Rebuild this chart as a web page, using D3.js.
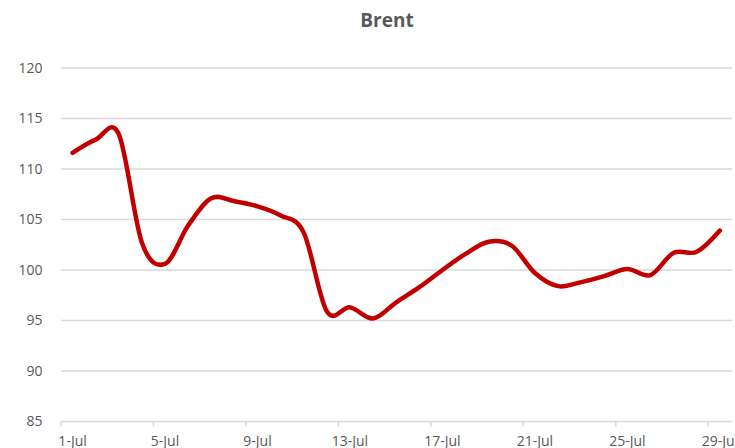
<!DOCTYPE html>
<html>
<head>
<meta charset="utf-8">
<script src="https://cdn.jsdelivr.net/npm/d3@7"></script>
<style>
  html, body { margin: 0; padding: 0; background: #fff; }
  svg { display: block; }
  text { font-family: "Open Sans", "Liberation Sans", sans-serif; }
</style>
</head>
<body>
<svg id="chart" width="735" height="448"></svg>
<script>
const title = "Brent";
const categories = ["1-Jul","2-Jul","3-Jul","4-Jul","5-Jul","6-Jul","7-Jul","8-Jul","9-Jul","10-Jul",
  "11-Jul","12-Jul","13-Jul","14-Jul","15-Jul","16-Jul","17-Jul","18-Jul","19-Jul","20-Jul",
  "21-Jul","22-Jul","23-Jul","24-Jul","25-Jul","26-Jul","27-Jul","28-Jul","29-Jul"];
const values = [111.6, 112.9, 113.45, 102.7, 100.6, 104.4, 107.1, 106.8, 106.3, 105.4,
  103.7, 95.9, 96.3, 95.2, 96.8, 98.3, 100.0, 101.6, 102.8, 102.4,
  99.7, 98.4, 98.8, 99.4, 100.1, 99.5, 101.7, 101.8, 103.9];
const yTicks = [85, 90, 95, 100, 105, 110, 115, 120];
const labelEvery = 4;

const svg = d3.select("#chart");
const plotLeft = 61, plotRight = 731.4, plotTop = 68, plotBottom = 421.5;

const x = d3.scaleBand().domain(categories).range([plotLeft, plotRight]).padding(0);
const y = d3.scaleLinear().domain([85, 120]).range([plotBottom, plotTop]);

const grey = "#595959";

// gridlines
svg.append("g")
  .selectAll("line")
  .data(yTicks)
  .join("line")
  .attr("x1", plotLeft).attr("x2", plotRight + 1)
  .attr("y1", d => y(d)).attr("y2", d => y(d))
  .attr("stroke", "#d9d9d9")
  .attr("stroke-width", 1.5);

// y axis labels
const yAxis = d3.axisLeft(y).tickValues(yTicks).tickSize(0).tickPadding(0);
const gy = svg.append("g").attr("transform", `translate(42.5,0)`).call(yAxis);
gy.select(".domain").remove();
gy.selectAll("text")
  .attr("fill", grey)
  .style("font-size", "14px")
  .style("font-family", "'Open Sans', sans-serif");

// x axis tick marks at category boundaries
const tickCats = categories.filter((d, i) => i % labelEvery === 0);
const xTickAxis = d3.axisBottom(x).tickValues(tickCats).tickSize(5).tickFormat("");
const gxt = svg.append("g")
  .attr("transform", `translate(${-x.bandwidth() / 2},${plotBottom})`)
  .call(xTickAxis);
gxt.select(".domain").remove();
gxt.selectAll("line").attr("stroke", "#d9d9d9").attr("stroke-width", 1.5);

// x axis labels
const xAxis = d3.axisBottom(x).tickValues(tickCats).tickSize(0).tickPadding(0);
const gx = svg.append("g").attr("transform", `translate(0,${plotBottom + 14.5})`).call(xAxis);
gx.select(".domain").remove();
gx.selectAll("text")
  .attr("fill", grey)
  .attr("dy", "0.71em")
  .style("font-size", "14px")
  .style("font-family", "'Open Sans', sans-serif");

// line
const line = d3.line()
  .x((d, i) => x(categories[i]) + x.bandwidth() / 2)
  .y(d => y(d))
  .curve(d3.curveCardinal.tension(0));

svg.append("path")
  .datum(values)
  .attr("d", line)
  .attr("fill", "none")
  .attr("stroke", "#c00000")
  .attr("stroke-width", 4.5)
  .attr("stroke-linecap", "round")
  .attr("stroke-linejoin", "round");

// title
svg.append("text")
  .attr("x", 387)
  .attr("y", 27)
  .attr("text-anchor", "middle")
  .attr("fill", grey)
  .style("font-size", "19px")
  .style("font-weight", "bold")
  .text(title);
</script>
</body>
</html>
